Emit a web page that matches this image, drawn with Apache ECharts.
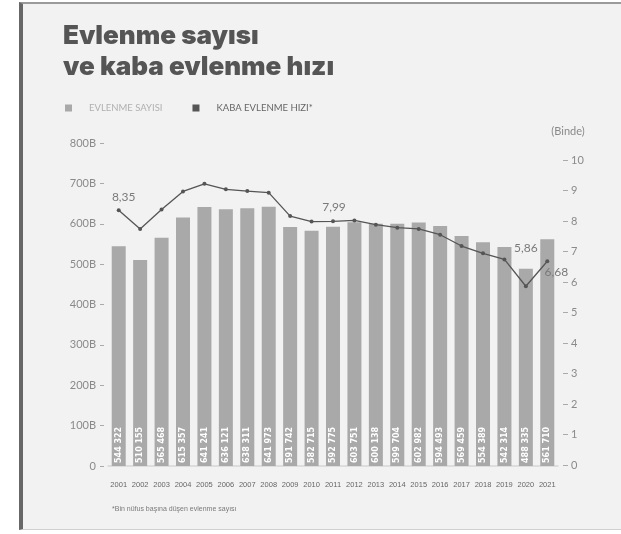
<!DOCTYPE html>
<html>
<head>
<meta charset="utf-8">
<script src="https://cdn.jsdelivr.net/npm/echarts@6/dist/echarts.min.js"></script>
<style>
  html, body { margin: 0; padding: 0; background: #fff; }
  #frame {
    position: absolute; left: 19px; top: 2px; width: 602px; height: 525px;
    background: #f2f2f2; border-left: 4px solid #676767; border-top: 2px solid #9a9a9a;
    border-bottom: 1px solid #d0d0d0;
  }
  #chart1 { position: absolute; left: 0; top: 0; width: 621px; height: 534px; }
</style>
</head>
<body>
<div id="frame"></div>
<div id="chart1"></div>
<script>
/* Evlenme sayisi ve kaba evlenme hizi */
const years = ['2001', '2002', '2003', '2004', '2005', '2006', '2007', '2008', '2009', '2010', '2011',
    '2012', '2013', '2014', '2015', '2016', '2017', '2018', '2019', '2020', '2021'];

// evlenme sayisi (bar)
const marriages = [544322, 510155, 565468, 615357, 641241, 636121, 638311, 641973, 591742, 582715, 592775,
    603751, 600138, 599704, 602982, 594493, 569459, 554389, 542314, 488335, 561710];

// kaba evlenme hizi, binde (line)
const rates = [8.35, 7.74, 8.38, 8.97, 9.22, 9.04, 8.98, 8.93, 8.16, 7.98, 7.99,
    8.02, 7.88, 7.78, 7.74, 7.55, 7.18, 6.94, 6.74, 5.86, 6.68];

const leftTicks = [0, 100000, 200000, 300000, 400000, 500000, 600000, 700000, 800000];
const rightTicks = [0, 1, 2, 3, 4, 5, 6, 7, 8, 9, 10];

const FONT = "Lato, 'Noto Sans', sans-serif";

let chartDom = document.getElementById('chart1');
let myChart = echarts.init(chartDom, null, { renderer: 'canvas' });

// which line points get a value label, and where
const rateLabels = {
    0: { position: 'top', distance: 5, offset: [5, 0] },
    10: { position: 'top', distance: 6, offset: [1, 0] },
    19: { position: 'top', distance: 30, offset: [0, 0] },
    20: { position: 'bottom', distance: 4, offset: [9, -1] },
};

const fmtThousands = (v) => String(v).replace(/\B(?=(\d{3})+(?!\d))/g, ' ');
const fmtComma = (v) => v.toFixed(2).replace('.', ',');

let rateData = rates.map((v, i) => {
    if (!rateLabels[i]) return v;
    return {
        value: v,
        label: Object.assign({
            show: true,
            color: '#7a7a7a',
            fontFamily: FONT,
            fontSize: 12,
            formatter: (p) => fmtComma(p.value),
        }, rateLabels[i]),
    };
});

let option = {
    backgroundColor: 'transparent',
    animation: false,
    title: {
        text: 'Evlenme sayısı\nve kaba evlenme hızı',
        left: 58,
        top: 16,
        textStyle: {
            color: '#555',
            fontFamily: "Inter, Roboto, sans-serif",
            fontWeight: 900,
            fontSize: 26,
            lineHeight: 31,
        },
    },
    legend: {
        left: 60,
        top: 98,
        itemWidth: 7,
        itemHeight: 7,
        itemGap: 30,
        icon: 'rect',
        data: [
            { name: 'EVLENME SAYISI', textStyle: { color: '#b0b0b0' } },
            { name: 'KABA EVLENME HIZI*', textStyle: { color: '#666' } },
        ],
        textStyle: {
            fontFamily: FONT,
            fontSize: 9.5,
            padding: [0, 0, 0, 12],
        },
    },
    grid: [
        { left: 108, right: 63, top: 143, bottom: 68 },
        { left: 108, right: 63, top: 160, bottom: 69 },
    ],
    xAxis: [
        {
            type: 'category', gridIndex: 0, data: years, offset: 2,
            axisLine: { lineStyle: { color: '#d6d6d6', width: 1.5 } },
            axisTick: { show: false },
            axisLabel: { show: false },
        },
        {
            type: 'category', gridIndex: 1, data: years, show: false,
        },
        {
            type: 'category', gridIndex: 0, data: years, position: 'bottom', offset: 9,
            axisLine: { show: false },
            axisTick: { alignWithLabel: true, length: 5, lineStyle: { color: '#c4c4c4' } },
            axisLabel: {
                interval: 0,
                margin: 6,
                color: '#666',
                fontFamily: "'Liberation Sans Narrow', 'Liberation Sans', sans-serif",
                fontSize: 7.5,
            },
        },
    ],
    yAxis: [
        {
            type: 'value', gridIndex: 0, min: leftTicks[0], max: leftTicks[leftTicks.length - 1],
            interval: leftTicks[1] - leftTicks[0],
            offset: 4,
            splitLine: { show: false },
            axisLine: { show: false },
            axisTick: { show: true, length: 4, lineStyle: { color: '#aaa' } },
            axisLabel: {
                margin: 8,
                color: '#8a8a8a',
                fontFamily: FONT,
                fontSize: 11,
                formatter: (v) => (v === 0 ? '0' : (v / 1000) + 'B'),
            },
        },
        {
            type: 'value', gridIndex: 1, position: 'right', min: rightTicks[0],
            max: rightTicks[rightTicks.length - 1], interval: 1,
            offset: 5,
            name: '(Binde)',
            nameLocation: 'end',
            nameGap: 23,
            nameTextStyle: { color: '#8a8a8a', fontFamily: FONT, fontSize: 11, align: 'center', padding: [0, 0, 0, 10] },
            splitLine: { show: false },
            axisLine: { show: false },
            axisTick: { show: true, length: 5, lineStyle: { color: '#aaa' } },
            axisLabel: {
                margin: 8,
                color: '#8a8a8a',
                fontFamily: FONT,
                fontSize: 11,
            },
        },
    ],
    series: [
        {
            name: 'EVLENME SAYISI',
            type: 'bar',
            xAxisIndex: 0,
            yAxisIndex: 0,
            barWidth: 14,
            itemStyle: { color: '#a9a9a9' },
            label: {
                show: true,
                position: 'insideBottom',
                rotate: 90,
                align: 'left',
                verticalAlign: 'middle',
                distance: 3,
                color: '#fff',
                fontFamily: "'DejaVu Sans', sans-serif",
                fontWeight: 'bold',
                fontSize: 8,
                formatter: (p) => fmtThousands(p.value),
            },
            data: marriages,
            z: 2,
        },
        {
            name: 'KABA EVLENME HIZI*',
            type: 'line',
            xAxisIndex: 1,
            yAxisIndex: 1,
            symbol: 'circle',
            symbolSize: 4,
            itemStyle: { color: '#555' },
            lineStyle: { color: '#555', width: 1.3 },
            data: rateData,
            z: 3,
        },
    ],
    graphic: [
        {
            type: 'text',
            left: 112,
            top: 506,
            style: {
                text: '*Bin nüfus başına düşen evlenme sayısı',
                fill: '#7a7a7a',
                font: "7px 'Liberation Sans Narrow', 'Liberation Sans', sans-serif",
            },
        },
    ],
};

option && myChart.setOption(option);

window.addEventListener('resize', () => {
    myChart.resize();
});
</script>
</body>
</html>
